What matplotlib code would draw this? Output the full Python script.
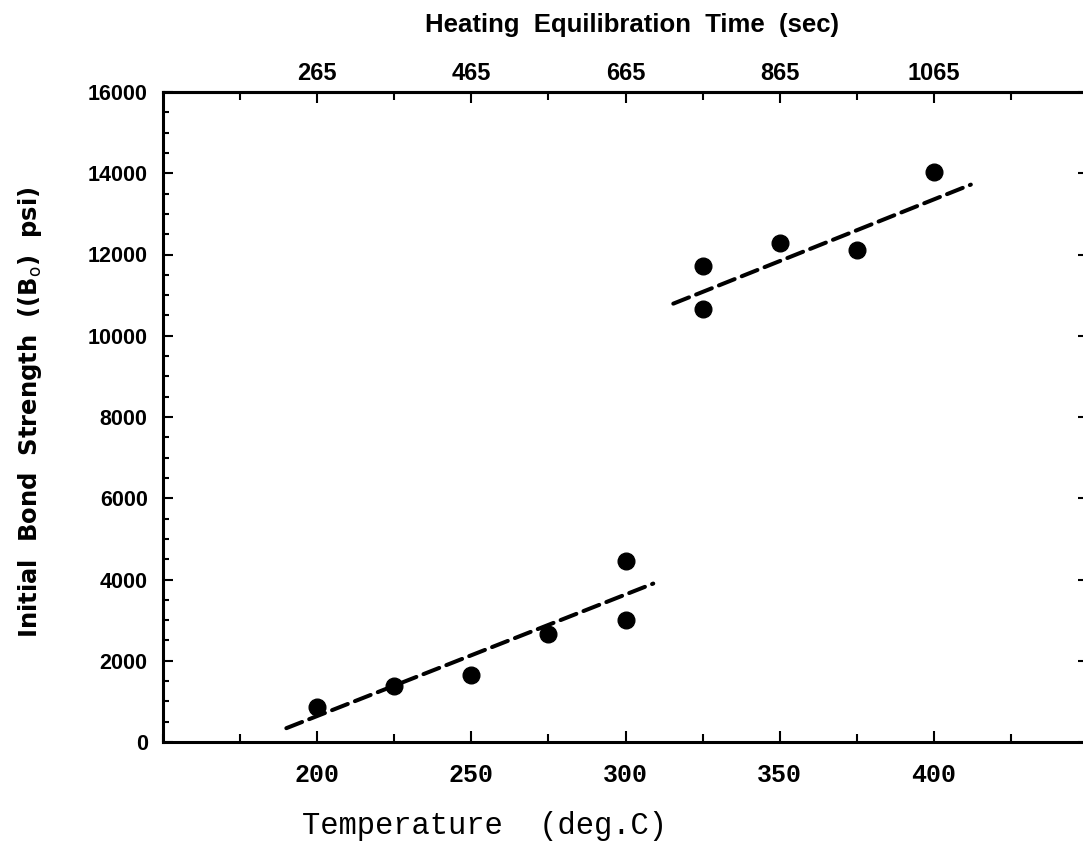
import matplotlib
matplotlib.use("Agg")
import matplotlib.pyplot as plt
from matplotlib.ticker import MultipleLocator, FixedLocator, NullFormatter

# Measured bond strength vs. temperature
temp_low = [200, 225, 250, 275, 300, 300]
bond_low = [850, 1380, 1640, 2670, 3000, 4450]
temp_high = [325, 325, 350, 375, 400]
bond_high = [10670, 11720, 12290, 12100, 14040]

# Straight-line fits drawn over each group (end points)
fit_low_temp = [190, 309]
fit_low_bond = [340, 3900]
fit_high_temp = [315.5, 412]
fit_high_bond = [10790, 13720]

# Axis ranges and ticks
x_range = (150, 450)
y_range = (0, 16000)
x_major = [200, 250, 300, 350, 400]
y_major = [0, 2000, 4000, 6000, 8000, 10000, 12000, 14000, 16000]

# Heating equilibration time on the top axis
time_ticks = [265, 465, 665, 865, 1065]
time_minor = [165, 365, 565, 765, 965, 1165]
time_at_200 = 265
sec_per_degree = 4.0

def temp_to_time(t):
    return time_at_200 + (t - 200) * sec_per_degree

def time_to_temp(s):
    return 200 + (s - time_at_200) / sec_per_degree

SANS = ["Liberation Sans", "DejaVu Sans"]
WIDE = ["DejaVu Sans", "Liberation Sans"]
MONO = ["Liberation Mono", "DejaVu Sans Mono"]

fig = plt.figure(figsize=(10.83, 8.44), dpi=100)
ax = fig.add_axes([163 / 1083, 1 - 742 / 844, 925 / 1083, 650 / 844])

ax.plot(temp_low, bond_low, "o", color="black", markersize=12, zorder=3)
ax.plot(temp_high, bond_high, "o", color="black", markersize=12, zorder=3)
for ft, fb in [(fit_low_temp, fit_low_bond), (fit_high_temp, fit_high_bond)]:
    ax.plot(ft, fb, color="black", linewidth=2.9, dashes=(4.2, 1.9),
            dash_capstyle="round", solid_capstyle="round")

ax.set_xlim(*x_range)
ax.set_ylim(*y_range)

for side in ["left", "bottom", "top", "right"]:
    ax.spines[side].set_linewidth(2.2)

ax.xaxis.set_major_locator(FixedLocator(x_major))
ax.xaxis.set_minor_locator(MultipleLocator(25))
ax.yaxis.set_major_locator(FixedLocator(y_major))
ax.yaxis.set_minor_locator(MultipleLocator(500))

ax.tick_params(axis="x", which="both", direction="in", bottom=True, top=False,
               width=1.5, pad=15)
ax.tick_params(axis="x", which="major", length=8)
ax.tick_params(axis="x", which="minor", length=5.5)
ax.tick_params(axis="y", which="both", direction="in", left=True, right=False,
               width=1.5, pad=11)
ax.tick_params(axis="y", which="major", length=7)
ax.tick_params(axis="y", which="minor", length=4.5)

for lab in ax.get_xticklabels():
    lab.set_fontfamily(MONO)
    lab.set_fontweight("bold")
    lab.set_fontsize(18)
for lab in ax.get_yticklabels():
    lab.set_fontfamily(SANS)
    lab.set_fontweight("bold")
    lab.set_fontsize(15.5)

# Top axis: heating equilibration time
top = ax.secondary_xaxis("top", functions=(temp_to_time, time_to_temp))
top.xaxis.set_major_locator(FixedLocator(time_ticks))
top.xaxis.set_minor_locator(FixedLocator(time_minor))
top.tick_params(axis="x", which="both", direction="in", width=1.5, pad=5)
top.tick_params(axis="x", which="major", length=8)
top.tick_params(axis="x", which="minor", length=5.5)
top.spines["top"].set_linewidth(2.2)
for lab in top.get_xticklabels():
    lab.set_fontfamily(SANS)
    lab.set_fontweight("bold")
    lab.set_fontsize(17)

# Right axis: major ticks only
right = ax.secondary_yaxis("right")
right.yaxis.set_major_locator(FixedLocator(y_major))
right.yaxis.set_major_formatter(NullFormatter())
right.yaxis.set_minor_locator(FixedLocator([]))
right.tick_params(axis="y", which="major", direction="in", length=7, width=1.5)
right.spines["right"].set_linewidth(2.2)

fig.text(484 / 1083, 1 - 826 / 844, "Temperature  (deg.C)", ha="center", va="center",
         fontsize=22, family=MONO, weight="normal")
fig.text(632 / 1083, 1 - 25 / 844, "Heating  Equilibration  Time  (sec)", ha="center",
         va="center", fontsize=18.5, family=SANS, weight="bold")
fig.text(30 / 1083, 1 - 412 / 844, r"Initial  Bond  Strength  ((B$_\mathrm{o}$)  psi)",
         ha="center", va="center", rotation=90, fontsize=17.5, family=WIDE,
         weight="bold")

fig.savefig("out.png", dpi=100)
